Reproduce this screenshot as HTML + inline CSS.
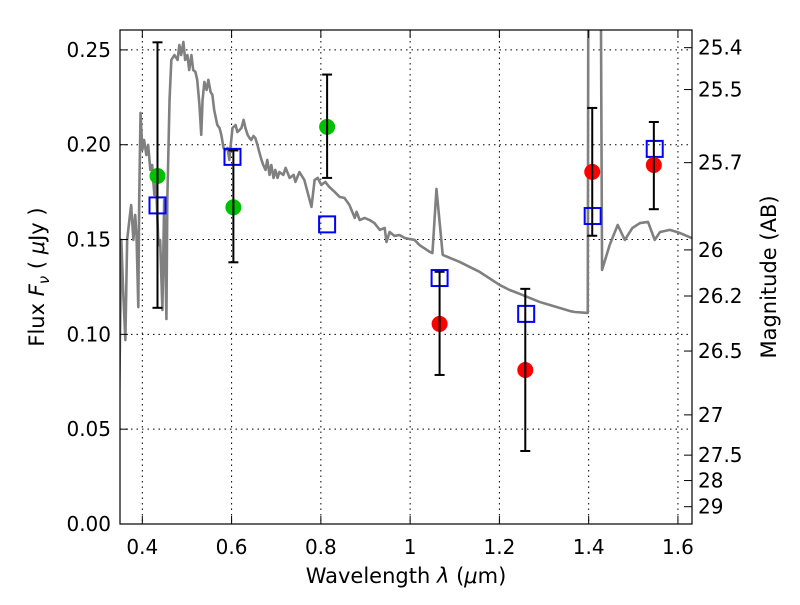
<!DOCTYPE html>
<html><head><meta charset="utf-8"><style>
body{margin:0;background:#fff}
svg text{font-family:"DejaVu Sans","Liberation Sans",sans-serif;fill:#000}
</style></head><body>
<svg id="c" width="800" height="600" xmlns="http://www.w3.org/2000/svg">
<defs><clipPath id="clip"><rect x="120" y="30" width="572" height="494"/></clipPath></defs>
<rect x="0" y="0" width="800" height="600" fill="#fff"/>
<g id="grid"></g>
<g id="spec" clip-path="url(#clip)"></g>
<g id="marks"></g>
<rect x="120" y="30" width="572" height="494" fill="none" stroke="#000" stroke-width="1.2"/>
<g id="axes"></g>
<text x="406" y="583" font-size="21" text-anchor="middle">Wavelength  <tspan font-style="italic">λ</tspan> (<tspan font-style="italic">μ</tspan>m)</text>
<text transform="translate(44,277) rotate(-90)" font-size="21" text-anchor="middle">Flux  <tspan font-style="italic">F</tspan><tspan font-style="italic" font-size="15" dy="5">ν</tspan><tspan dy="-5">  ( </tspan><tspan font-style="italic">μ</tspan>Jy )</text>
<text transform="translate(776,277) rotate(-90)" font-size="21" text-anchor="middle">Magnitude (AB)</text>
</svg>
<script>
const xTicks=[0.4,0.6,0.8,1.0,1.2,1.4,1.6];
const xTickLabels=["0.4","0.6","0.8","1","1.2","1.4","1.6"];
const yTicks=[0,0.05,0.10,0.15,0.20,0.25];
const yTickLabels=["0.00","0.05","0.10","0.15","0.20","0.25"];
const magTicks=[25.4,25.5,25.7,26,26.2,26.5,27,27.5,28,29];
const magLabels=["25.4","25.5","25.7","26","26.2","26.5","27","27.5","28","29"];
const specLam=[0.348,0.353,0.357,0.362,0.366,0.371,0.375,0.380,0.384,0.387,0.391,0.393,0.396,0.400,0.404,0.409,0.413,0.418,0.422,0.427,0.431,0.436,0.440,0.445,0.449,0.454,0.456,0.461,0.465,0.472,0.479,0.483,0.487,0.492,0.496,0.501,0.505,0.510,0.514,0.519,0.523,0.528,0.532,0.535,0.539,0.544,0.548,0.553,0.557,0.561,0.568,0.573,0.577,0.582,0.586,0.591,0.595,0.597,0.602,0.609,0.613,0.618,0.622,0.627,0.631,0.636,0.640,0.644,0.649,0.653,0.658,0.662,0.667,0.671,0.676,0.680,0.685,0.689,0.694,0.698,0.703,0.707,0.716,0.721,0.730,0.739,0.743,0.752,0.763,0.779,0.786,0.793,0.801,0.810,0.819,0.831,0.842,0.853,0.864,0.876,0.880,0.887,0.898,0.909,0.920,0.932,0.943,0.947,0.954,0.965,0.976,0.988,0.999,1.010,1.021,1.044,1.050,1.059,1.073,1.111,1.156,1.201,1.223,1.246,1.290,1.313,1.358,1.369,1.398,1.400,1.425,1.430,1.447,1.465,1.481,1.498,1.515,1.533,1.548,1.560,1.582,1.604,1.631];
const specFlux=[0.0654,0.1498,0.1234,0.0970,0.1498,0.1603,0.1682,0.1498,0.1630,0.1524,0.1144,0.1709,0.2168,0.1972,0.2025,0.1946,0.1999,0.1867,0.1893,0.1735,0.1788,0.1471,0.1498,0.1129,0.1709,0.1081,0.1709,0.2236,0.2447,0.2473,0.2447,0.2526,0.2473,0.2542,0.2447,0.2473,0.2394,0.2473,0.2394,0.2384,0.2342,0.2210,0.2052,0.2236,0.2331,0.2289,0.2342,0.2278,0.2263,0.2183,0.2104,0.2088,0.2052,0.1983,0.1972,0.1983,0.1920,0.1972,0.2088,0.2104,0.2067,0.2078,0.2088,0.2131,0.2088,0.2052,0.2036,0.2025,0.2046,0.2036,0.1999,0.1962,0.1920,0.1893,0.1867,0.1920,0.1841,0.1893,0.1825,0.1867,0.1825,0.1856,0.1841,0.1878,0.1825,0.1841,0.1804,0.1856,0.1814,0.1672,0.1814,0.1825,0.1788,0.1804,0.1777,0.1751,0.1725,0.1719,0.1682,0.1614,0.1646,0.1603,0.1614,0.1603,0.1587,0.1551,0.1561,0.1487,0.1540,0.1519,0.1524,0.1508,0.1503,0.1498,0.1471,0.1435,0.1429,0.1767,0.1419,0.1382,0.1329,0.1260,0.1234,0.1213,0.1171,0.1155,0.1123,0.1118,0.1113,0.40,0.40,0.1340,0.1471,0.1577,0.1498,0.1561,0.1587,0.1593,0.1498,0.1540,0.1551,0.1535,0.1508];
const greenLam=[0.434,0.604,0.814];
const greenFlux=[0.1835,0.167,0.2094];
const greenLo=[0.114,0.138,0.1825];
const greenHi=[0.254,0.197,0.237];
const redLam=[1.066,1.258,1.408,1.546];
const redFlux=[0.1055,0.0812,0.1857,0.1893];
const redLo=[0.0786,0.0385,0.152,0.166];
const redHi=[0.133,0.124,0.2194,0.212];
const modelLam=[0.434,0.602,0.814,1.066,1.260,1.409,1.548];
const modelFlux=[0.168,0.1936,0.158,0.1297,0.1108,0.1624,0.1978];

const NS="http://www.w3.org/2000/svg";
const X0=0.35,X1=1.6315,PX0=120,PX1=692;
const Y0=0,Y1=0.2605,PY0=524,PY1=30;
const sx=v=>PX0+(v-X0)/(X1-X0)*(PX1-PX0);
const sy=v=>PY0-(v-Y0)/(Y1-Y0)*(PY0-PY1);
const magToFlux=m=>Math.pow(10,(23.9-m)/2.5);
function mk(t,a,p){const e=document.createElementNS(NS,t);for(const k in a)e.setAttribute(k,a[k]);(p||document.getElementById('c')).appendChild(e);return e;}
const grid=document.getElementById('grid'),axes=document.getElementById('axes'),marks=document.getElementById('marks'),spec=document.getElementById('spec');

xTicks.forEach((v,i)=>{const x=sx(v);
 const g=mk('line',{x1:x,x2:x,y1:30,y2:524,stroke:'#000','stroke-width':1,'stroke-dasharray':'1.5,4'},grid);
 
 
 mk('line',{x1:x,x2:x,y1:524,y2:516,stroke:'#000','stroke-width':1},axes);
 mk('line',{x1:x,x2:x,y1:30,y2:38,stroke:'#000','stroke-width':1},axes);
 const t=mk('text',{x:x,y:554,'font-size':20,'text-anchor':'middle'},axes);t.textContent=xTickLabels[i];
 
 
});
yTicks.forEach((v,i)=>{const y=sy(v);
 const g=mk('line',{x1:120,x2:692,y1:y,y2:y,stroke:'#000','stroke-width':1,'stroke-dasharray':'1.5,4'},grid);
 
 
 mk('line',{x1:120,x2:128,y1:y,y2:y,stroke:'#000','stroke-width':1},axes);
 const t=mk('text',{x:111,y:y+7,'font-size':20,'text-anchor':'end'},axes);t.textContent=yTickLabels[i];
 
 
});
magTicks.forEach((m,i)=>{const y=sy(magToFlux(m));
 mk('line',{x1:684,x2:692,y1:y,y2:y,stroke:'#000','stroke-width':1},axes);
 const t=mk('text',{x:698,y:y+7,'font-size':20,'text-anchor':'start'},axes);t.textContent=magLabels[i];
 
 
});

const sp=mk('polyline',{points:specLam.map((l,i)=>sx(l)+','+sy(specFlux[i])).join(' '),fill:'none',stroke:'#808080','stroke-width':2.6,'stroke-linejoin':'round'},spec);



function errbar(l,lo,hi){const x=sx(l);
 const e=mk('line',{x1:x,x2:x,y1:sy(lo),y2:sy(hi),stroke:'#000','stroke-width':2},marks);
 
 
 [lo,hi].forEach(v=>mk('line',{x1:x-5,x2:x+5,y1:sy(v),y2:sy(v),stroke:'#000','stroke-width':2},marks));
}
modelLam.forEach((l,i)=>{
 const r=mk('rect',{x:sx(l)-8,y:sy(modelFlux[i])-8,width:16,height:16,fill:'none',stroke:'#0000ff','stroke-width':2},marks);
 
 
});
greenLam.forEach((l,i)=>{
 const c=mk('circle',{cx:sx(l),cy:sy(greenFlux[i]),r:8,fill:'#00c000'},marks);
 
 
 errbar(l,greenLo[i],greenHi[i]);
});
redLam.forEach((l,i)=>{
 const c=mk('circle',{cx:sx(l),cy:sy(redFlux[i]),r:8,fill:'#ff0000'},marks);
 
 
 errbar(l,redLo[i],redHi[i]);
});
</script>
</body></html>
